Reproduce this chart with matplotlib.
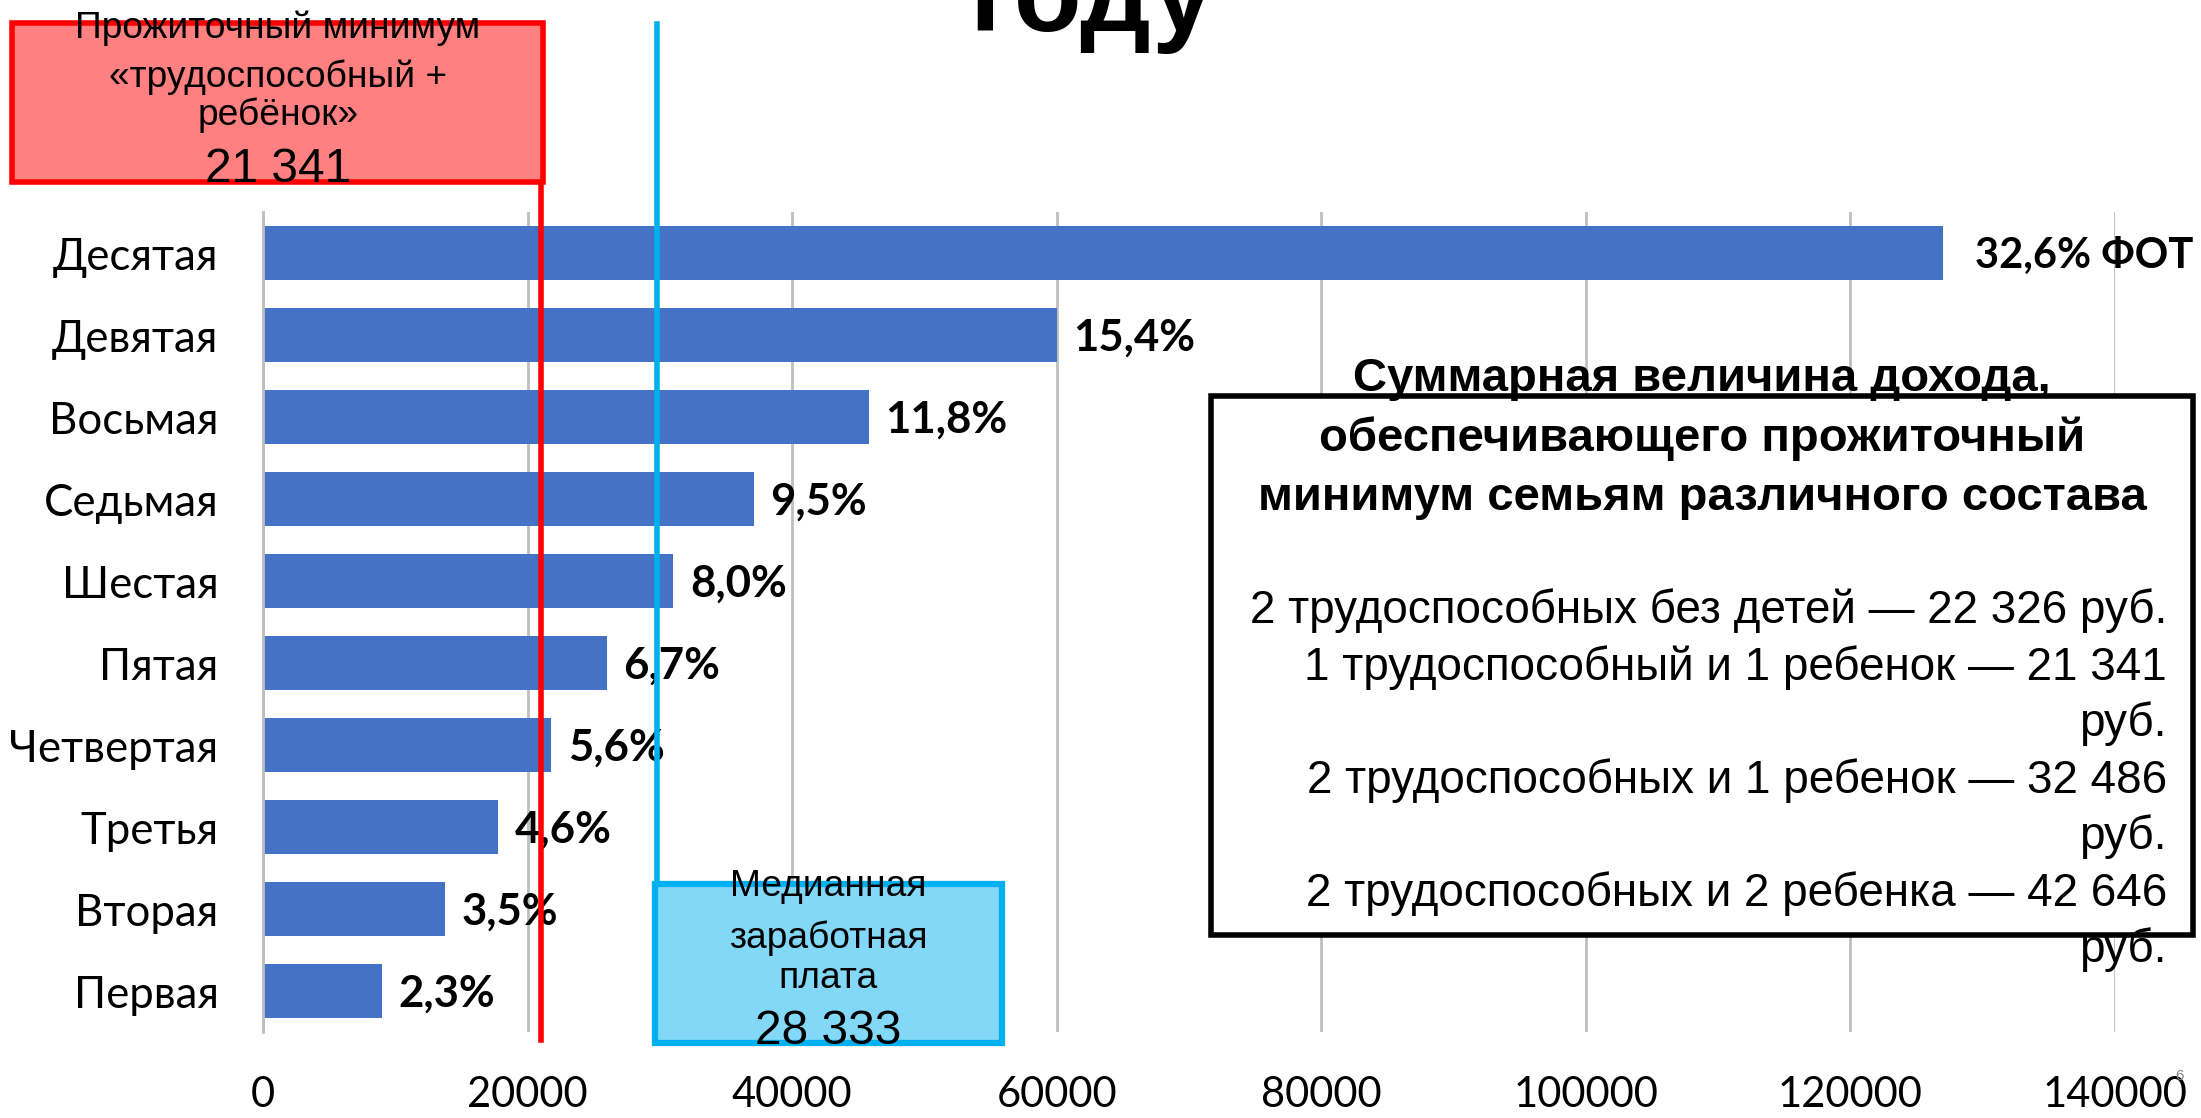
import matplotlib.pyplot as plt
from matplotlib.patches import Rectangle

# decile groups, top to bottom
deciles = ['Десятая', 'Девятая', 'Восьмая', 'Седьмая', 'Шестая',
           'Пятая', 'Четвертая', 'Третья', 'Вторая', 'Первая']
wages = [127000, 60000, 45800, 37100, 31000, 26000, 21800, 17800, 13750, 9000]
shares = ['32,6% ФОТ', '15,4%', '11,8%', '9,5%', '8,0%',
          '6,7%', '5,6%', '4,6%', '3,5%', '2,3%']
xticks = [0, 20000, 40000, 60000, 80000, 100000, 120000, 140000]

# reference levels (label value and where the line is drawn on the chart)
subsistence = 21341
subsistence_line = 21000
median_wage = 28333
median_line = 29800

families = ['2 трудоспособных без детей', '1 трудоспособный и 1 ребенок',
            '2 трудоспособных и 1 ребенок', '2 трудоспособных и 2 ребенка']
family_income = [22326, 21341, 32486, 42646]

W, H = 2201, 1118
fig = plt.figure(figsize=(W / 100, H / 100), dpi=100)


def fx(x):
    return x / W


def fy(y):
    return 1 - y / H


def money(v):
    return f'{v:,}'.replace(',', ' ')


ax = fig.add_axes([fx(263), fy(1032), fx(2115) - fx(263), (1032 - 212) / H])
ypos = list(range(len(deciles)))
ax.barh(ypos, wages, height=0.66, color='#4472C4', zorder=2)
ax.set_ylim(len(deciles) - 0.5, -0.5)
ax.set_xlim(0, 140000)
ax.set_xticks(xticks)
ax.set_xticklabels([str(t) for t in xticks], family='Lato', fontsize=30)
ax.set_yticks(ypos)
ax.set_yticklabels(deciles, family='Lato', fontsize=31.5)
ax.tick_params(length=0, pad=32, axis='y')
ax.tick_params(length=0, pad=32, axis='x')
ax.grid(axis='x', color='#BFBFBF', lw=2, zorder=0)
for s in ['top', 'right', 'bottom']:
    ax.spines[s].set_visible(False)
ax.spines['left'].set_color('#BFBFBF')
ax.spines['left'].set_linewidth(2)

for i, (w, lab) in enumerate(zip(wages, shares)):
    pad = 23 if i == 0 else 12
    size = 30 if i == 0 else 31.5
    ax.annotate(lab, (w, i), xytext=(pad, -2), textcoords='offset points',
                va='center', ha='left', family='Lato', fontweight='bold',
                fontsize=size, zorder=3)

# subsistence minimum line + box
ax.axvline(subsistence_line, ymin=-0.01, ymax=(1032 - 182) / 820,
           color='#FF0000', lw=4, clip_on=False, zorder=4)
fig.patches.append(Rectangle((fx(12), fy(182)), fx(543) - fx(12), (182 - 23) / H,
                             transform=fig.transFigure, facecolor='#FF8080',
                             edgecolor='#FF0000', lw=4, zorder=1))
for txt, y in [('Прожиточный минимум', 28), ('«трудоспособный +', 77), ('ребёнок»', 115)]:
    fig.text(fx(278), fy(y), txt, ha='center', va='center',
             family='Liberation Sans', fontsize=26.7)
fig.text(fx(278), fy(170), money(subsistence), ha='center', va='center',
         family='Liberation Sans', fontsize=34.5)

# median wage line + box
ax.axvline(median_line, ymin=-0.013, ymax=(1032 - 24) / 820,
           color='#00B0F0', lw=4, clip_on=False, zorder=4)
fig.patches.append(Rectangle((fx(655), fy(1043)), fx(1002) - fx(655), (1043 - 884) / H,
                             transform=fig.transFigure, facecolor='#83D7F7',
                             edgecolor='#00B0F0', lw=4.5, zorder=5))
for txt, y in [('Медианная', 887), ('заработная', 938), ('плата', 978)]:
    fig.text(fx(828), fy(y), txt, ha='center', va='center',
             family='Liberation Sans', fontsize=26.7, zorder=6)
fig.text(fx(828), fy(1032), money(median_wage), ha='center', va='center',
         family='Liberation Sans', fontsize=34.5, zorder=6)

# family income box
fig.patches.append(Rectangle((fx(1211), fy(935)), fx(2193) - fx(1211), (935 - 396) / H,
                             transform=fig.transFigure, facecolor='white',
                             edgecolor='black', lw=4, zorder=5))
heading = ['Суммарная величина дохода,', 'обеспечивающего прожиточный',
           'минимум семьям различного состава']
for k, txt in enumerate(heading):
    fig.text(fx(1702), fy(379 + 59.5 * k), txt, ha='center', va='center',
             family='Liberation Sans', fontweight='bold', fontsize=34, zorder=6)

lines = []
for name, v in zip(families, family_income):
    full = f'{name} — {money(v)} руб.'
    if len(full) > 40:
        lines += [f'{name} — {money(v)}', 'руб.']
    else:
        lines.append(full)
for k, txt in enumerate(lines):
    fig.text(fx(2167), fy(611 + 56.5 * k), txt, ha='right', va='center',
             family='Liberation Sans', fontsize=33, zorder=6)

# title, cut off at the top of the slide
fig.text(fx(1092), fy(31), 'году', ha='center', va='baseline',
         family='Liberation Sans', fontweight='bold', fontsize=80)
fig.text(fx(2180), fy(1076), '6', ha='center', va='center',
         family='Liberation Sans', fontsize=11, color='#888888')

fig.savefig('out.png', dpi=100)
